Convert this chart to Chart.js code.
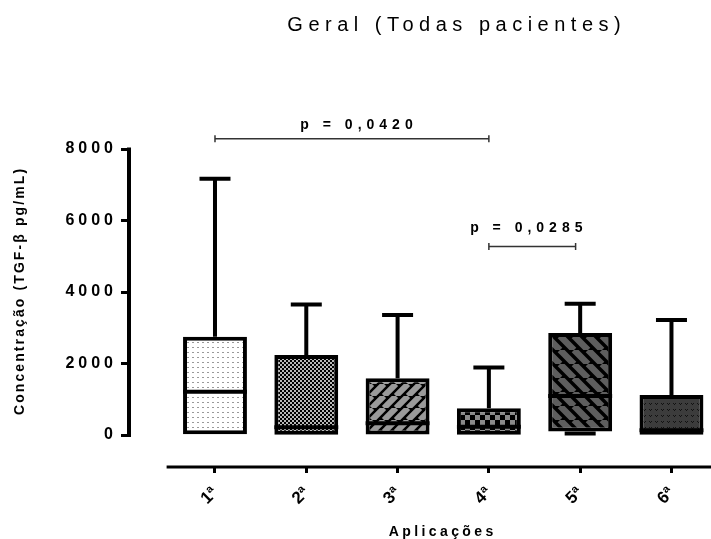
<!DOCTYPE html>
<html>
<head>
<meta charset="utf-8">
<script src="https://cdn.jsdelivr.net/npm/chart.js@4.4.1/dist/chart.umd.min.js"></script>
<style>
  html, body { margin: 0; padding: 0; background: #fff; }
</style>
</head>
<body>
<canvas id="boxChart" width="711" height="539"></canvas>
<script>
const categories = ['1ª', '2ª', '3ª', '4ª', '5ª', '6ª'];
const minValues = [20, 10, 15, 10, 45, 10];
const q1Values = [20, 10, 15, 10, 95, 10];
const medianValues = [1210, 220, 330, 230, 1090, 130];
const q3Values = [2750, 2240, 1590, 750, 2850, 1120];
const maxValues = [7170, 3650, 3360, 1885, 3670, 3220];
const yTicks = [0, 2000, 4000, 6000, 8000];

// significance brackets (x in category units, y in pg/mL)
const pLabels = ['p = 0,0420', 'p = 0,0285'];
const bracketFrom = [1, 4];
const bracketTo = [4, 4.95];
const bracketLevel = [8290, 5270];
const pLabelX = [2.55, 4.41];
const pLabelLevel = [8680, 5800];

const FONT = '"Liberation Sans", Arial, Helvetica, sans-serif';

function makePattern(size, paint) {
    const tile = document.createElement('canvas');
    tile.width = size;
    tile.height = size;
    const g = tile.getContext('2d');
    paint(g, size);
    return g.createPattern(tile, 'repeat');
}

function stripes(size, bg, fg, width, dir) {
    return makePattern(size, (g, s) => {
        g.fillStyle = bg;
        g.fillRect(0, 0, s, s);
        g.strokeStyle = fg;
        g.lineWidth = width;
        g.beginPath();
        for (let k = -1; k <= 1; k++) {
            if (dir > 0) { g.moveTo(k * s, s); g.lineTo(k * s + s, 0); }
            else { g.moveTo(k * s, 0); g.lineTo(k * s + s, s); }
        }
        g.stroke();
    });
}

const fills = [
    makePattern(5, (g, s) => {
        g.fillStyle = '#fff'; g.fillRect(0, 0, s, s);
        g.fillStyle = '#999'; g.fillRect(2, 2, 2, 1);
    }),
    makePattern(4, (g, s) => {
        g.fillStyle = '#000'; g.fillRect(0, 0, s, s);
        g.fillStyle = '#b8b8b8'; g.fillRect(0, 0, 2, 2); g.fillRect(2, 2, 2, 2);
    }),
    stripes(12, '#000', '#9a9a9a', 6, 1),
    makePattern(10, (g, s) => {
        g.fillStyle = '#000'; g.fillRect(0, 0, s, s);
        g.fillStyle = '#8a8a8a'; g.fillRect(0, 0, 5, 5); g.fillRect(5, 5, 5, 5);
    }),
    stripes(14, '#000', '#5e5e5e', 6.5, -1),
    makePattern(6, (g, s) => {
        g.fillStyle = '#3c3c3c'; g.fillRect(0, 0, s, s);
        g.fillStyle = '#111'; g.fillRect(1, 1, 1, 1); g.fillRect(3, 1, 1, 1); g.fillRect(2, 2, 1, 1);
    })
];

function spacedText(ctx, text, x, y, font, spacing) {
    ctx.save();
    ctx.font = font;
    ctx.letterSpacing = spacing + 'px';
    ctx.textAlign = 'left';
    ctx.textBaseline = 'middle';
    ctx.fillStyle = '#000';
    const w = ctx.measureText(text).width - spacing;
    ctx.fillText(text, x - w / 2, y);
    ctx.restore();
}

// whiskers below the boxes, medians on top
const boxPlot = {
    id: 'boxPlot',
    beforeDraw(chart) {
        chart.ctx.letterSpacing = '4px';
    },
    beforeDatasetsDraw(chart) {
        const { ctx, scales: { x, y } } = chart;
        ctx.letterSpacing = '0px';
        ctx.save();
        ctx.strokeStyle = '#000';
        ctx.lineWidth = 4;
        categories.forEach((c, i) => {
            const cx = x.getPixelForValue(i + 1);
            const hi = y.getPixelForValue(maxValues[i]);
            ctx.beginPath();
            ctx.moveTo(cx, y.getPixelForValue(q3Values[i]));
            ctx.lineTo(cx, hi);
            ctx.moveTo(cx - 15.5, hi);
            ctx.lineTo(cx + 15.5, hi);
            if (minValues[i] < q1Values[i]) {
                const lo = y.getPixelForValue(minValues[i]);
                ctx.moveTo(cx, y.getPixelForValue(q1Values[i]));
                ctx.lineTo(cx, lo);
                ctx.moveTo(cx - 15.5, lo);
                ctx.lineTo(cx + 15.5, lo);
            }
            ctx.stroke();
        });
        // axis lines
        ctx.lineWidth = 4;
        ctx.beginPath();
        ctx.moveTo(chart.chartArea.left - 2, y.getPixelForValue(yTicks[0]) + 1.5);
        ctx.lineTo(chart.chartArea.left - 2, y.getPixelForValue(yTicks[yTicks.length - 1]) - 1.5);
        ctx.stroke();
        ctx.lineWidth = 3;
        ctx.beginPath();
        ctx.moveTo(x.getPixelForValue(0.47), chart.chartArea.bottom);
        ctx.lineTo(chart.width, chart.chartArea.bottom);
        ctx.stroke();
        ctx.restore();
    },
    afterDatasetsDraw(chart) {
        const { ctx, scales: { y } } = chart;
        const meta = chart.getDatasetMeta(0);
        ctx.save();
        ctx.strokeStyle = '#000';
        ctx.lineWidth = 4;
        categories.forEach((c, i) => {
            const bar = meta.data[i];
            const my = y.getPixelForValue(medianValues[i]);
            ctx.beginPath();
            ctx.moveTo(bar.x - bar.width / 2, my);
            ctx.lineTo(bar.x + bar.width / 2, my);
            ctx.stroke();
        });
        ctx.restore();
    },
    afterDraw(chart) {
        const { ctx, scales: { x, y } } = chart;
        ctx.save();
        ctx.strokeStyle = '#333';
        ctx.lineWidth = 1.5;
        pLabels.forEach((label, i) => {
            const x1 = x.getPixelForValue(bracketFrom[i]);
            const x2 = x.getPixelForValue(bracketTo[i]);
            const by = y.getPixelForValue(bracketLevel[i]);
            ctx.beginPath();
            ctx.moveTo(x1, by); ctx.lineTo(x2, by);
            ctx.moveTo(x1, by - 3.5); ctx.lineTo(x1, by + 3.5);
            ctx.moveTo(x2, by - 3.5); ctx.lineTo(x2, by + 3.5);
            ctx.stroke();
            spacedText(ctx, label, x.getPixelForValue(pLabelX[i]), y.getPixelForValue(pLabelLevel[i]),
                'bold 14px ' + FONT, 5);
        });
        ctx.restore();

        spacedText(ctx, 'Geral (Todas pacientes)', 454, 25, '20px ' + FONT, 5.5);
        spacedText(ctx, 'Aplicações', 441, 532, 'bold 14px ' + FONT, 3.4);
        ctx.save();
        ctx.translate(20, 292);
        ctx.rotate(-Math.PI / 2);
        spacedText(ctx, 'Concentração (TGF-β pg/mL)', 0, 0, 'bold 14px ' + FONT, 2.1);
        ctx.restore();
        ctx.letterSpacing = '0px';
    }
};

const ctx = document.getElementById('boxChart').getContext('2d');
new Chart(ctx, {
    type: 'bar',
    data: {
        datasets: [{
            data: categories.map((c, i) => ({ x: i + 1, y: [q1Values[i], q3Values[i]] })),
            backgroundColor: fills,
            borderColor: '#000',
            borderWidth: 4,
            borderSkipped: false,
            barPercentage: 0.7,
            categoryPercentage: 1
        }]
    },
    options: {
        responsive: false,
        animation: false,
        devicePixelRatio: 1,
        layout: { padding: { top: 149, left: 0, right: 0, bottom: 0 } },
        plugins: {
            legend: { display: false },
            title: { display: false },
            tooltip: { enabled: false }
        },
        scales: {
            x: {
                type: 'linear',
                min: 0.08,
                max: 6.433,
                offset: false,
                afterBuildTicks: (s) => { s.ticks = categories.map((c, i) => ({ value: i + 1 })); },
                afterFit: (s) => { s.height = 72; },
                border: { display: false },
                grid: { offset: false, drawOnChartArea: false, tickLength: 6, tickWidth: 3, tickColor: '#000' },
                ticks: {
                    z: 1,
                    color: '#000',
                    autoSkip: false,
                    minRotation: 45,
                    maxRotation: 45,
                    padding: 10,
                    font: { family: FONT, size: 17, weight: 'bold' },
                    callback: (v) => categories[v - 1]
                }
            },
            y: {
                min: -895,
                max: 8000,
                afterBuildTicks: (s) => { s.ticks = yTicks.map(v => ({ value: v })); },
                afterFit: (s) => { s.width = 131; },
                border: { display: false },
                grid: { drawOnChartArea: false, tickLength: 10, tickWidth: 3, tickColor: '#000' },
                ticks: {
                    color: '#000',
                    padding: 4,
                    font: { family: FONT, size: 16, weight: 'bold' },
                    callback: (v) => String(v)
                }
            }
        }
    },
    plugins: [boxPlot]
});
</script>
</body>
</html>
